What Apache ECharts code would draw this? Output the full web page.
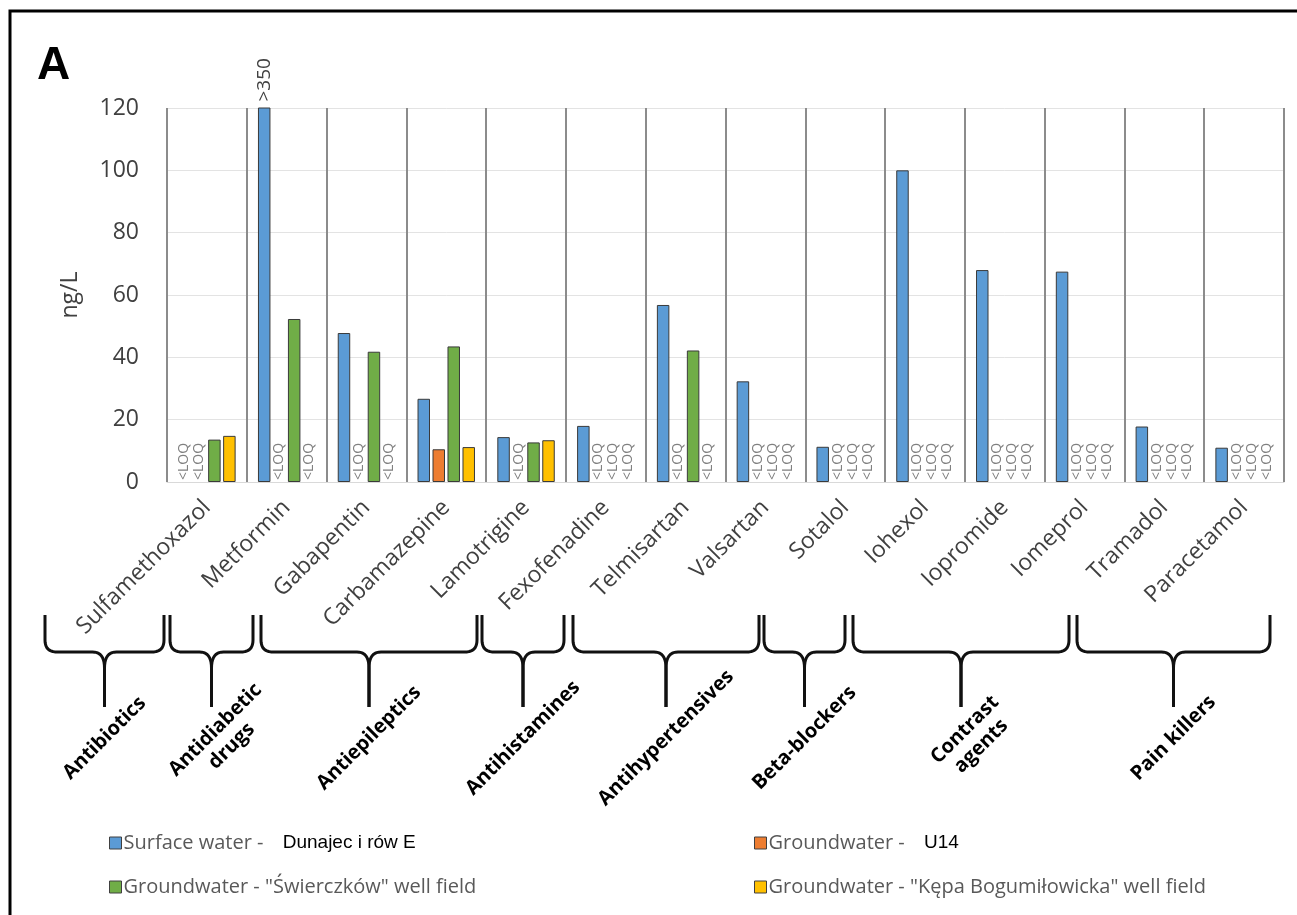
<!DOCTYPE html>
<html>
<head>
<meta charset="utf-8">
<script src="https://cdn.jsdelivr.net/npm/echarts@6/dist/echarts.min.js"></script>
<style>
  html, body { margin: 0; padding: 0; background: #ffffff; }
  #chart { width: 1297px; height: 915px; }
</style>
</head>
<body>
<div id="chart"></div>
<script>
// Concentrations in ng/L; null marks a result below the limit of quantification (<LOQ)
const categories = ['Sulfamethoxazol', 'Metformin', 'Gabapentin', 'Carbamazepine', 'Lamotrigine',
  'Fexofenadine', 'Telmisartan', 'Valsartan', 'Sotalol', 'Iohexol', 'Iopromide', 'Iomeprol',
  'Tramadol', 'Paracetamol'];
const surfaceWater = [null, 350, 47.8, 26.7, 14.4, 18, 56.8, 32.3, 11.3, 100, 68, 67.5, 17.8, 11];
const groundwaterU14 = [null, null, null, 10.5, null, null, null, null, null, null, null, null, null, null];
const groundwaterSwierczkow = [13.6, 52.3, 41.8, 43.5, 12.7, null, 42.2, null, null, null, null, null, null, null];
const groundwaterKepa = [14.8, null, null, 11.2, 13.4, null, null, null, null, null, null, null, null, null];
const yTicks = { min: 0, max: 120, interval: 20 };

// Drug classes with the number of consecutive categories each one groups
const drugGroups = ['Antibiotics', 'Antidiabetic\ndrugs', 'Antiepileptics', 'Antihistamines',
  'Antihypertensives', 'Beta-blockers', 'Contrast\nagents', 'Pain killers'];
const drugGroupSizes = [1, 1, 3, 1, 2, 1, 3, 2];

// Hand-placed brace geometry under the rotated labels (pixels)
const braceLayout = [[45, 164], [170, 253], [261, 477], [482, 564], [573, 759], [764, 845], [853, 1069], [1077, 1270]];
const BRACE_TOP = 615, BRACE_BAR = 652, BRACE_TIP = 707, GROUP_LABEL_Y = 738;

const FONT = "'Open Sans', 'DejaVu Sans', sans-serif";
const ARIAL = "'Liberation Sans', Arial, sans-serif";
const colors = ['#5B9BD5', '#ED7D31', '#70AD47', '#FFC000'];

const loqLabel = {
  show: true, position: 'insideBottom', rotate: 90, align: 'left', verticalAlign: 'middle',
  distance: 2, formatter: '<LOQ', color: '#808080', fontSize: 14, fontFamily: FONT
};
const overLabel = {
  show: true, position: 'top', rotate: 90, align: 'left', verticalAlign: 'middle',
  distance: 6, color: '#404040', fontSize: 19, fontFamily: FONT
};

function toData(values) {
  return values.map(function (v) {
    if (v === null) {
      return { value: 0, itemStyle: { color: 'rgba(0,0,0,0)', borderWidth: 0 }, label: loqLabel };
    }
    if (v > yTicks.max) {
      return { value: v, label: Object.assign({}, overLabel, { formatter: '>' + v }) };
    }
    return v;
  });
}

const seriesDefs = [
  { name: 'Surface water - Dunajec i rów E', values: surfaceWater, legend: '{a|Surface water - }{b|Dunajec i rów E}' },
  { name: 'Groundwater - U14', values: groundwaterU14, legend: '{a|Groundwater - }{b|U14}' },
  { name: 'Groundwater - "Świerczków" well field', values: groundwaterSwierczkow, legend: '{a|Groundwater - "Świerczków" well field}' },
  { name: 'Groundwater - "Kępa Bogumiłowicka" well field', values: groundwaterKepa, legend: '{a|Groundwater - "Kępa Bogumiłowicka" well field}' }
];

const legendPos = [[104, 828], [749, 828], [104, 872], [749, 872]];

const legends = seriesDefs.map(function (s, i) {
  return {
    data: [s.name], left: legendPos[i][0], top: legendPos[i][1], orient: 'horizontal',
    icon: 'rect', itemWidth: 12, itemHeight: 12, itemGap: 0,
    itemStyle: { borderColor: '#404040', borderWidth: 1 },
    selectedMode: false,
    formatter: function () { return s.legend; },
    textStyle: {
      padding: [0, 0, 0, -3],
      rich: {
        a: { fontFamily: FONT, fontSize: 20, color: '#595959' },
        b: { fontFamily: ARIAL, fontSize: 19, color: '#000000', padding: [0, 0, 0, 14] }
      }
    }
  };
});

const chart = echarts.init(document.getElementById('chart'), null, { renderer: 'canvas' });

// Sample a quadratic curve into polyline points
function quad(p0, c, p1, out) {
  for (let k = 1; k <= 10; k++) {
    const t = k / 10, u = 1 - t;
    out.push([u * u * p0[0] + 2 * u * t * c[0] + t * t * p1[0], u * u * p0[1] + 2 * u * t * c[1] + t * t * p1[1]]);
  }
}

function halfBrace(xEnd, m) {
  const dir = xEnd < m ? 1 : -1;
  const r = 12;
  const pts = [[xEnd, BRACE_TOP], [xEnd, BRACE_BAR - r]];
  quad([xEnd, BRACE_BAR - r], [xEnd, BRACE_BAR], [xEnd + dir * r, BRACE_BAR], pts);
  pts.push([m - dir * r, BRACE_BAR]);
  quad([m - dir * r, BRACE_BAR], [m, BRACE_BAR], [m, BRACE_BAR + r + 4], pts);
  pts.push([m, BRACE_TIP]);
  return pts;
}

function braceGraphics() {
  const els = [];
  braceLayout.forEach(function (span, i) {
    const x1 = span[0], x2 = span[1], m = (x1 + x2) / 2;
    [x1, x2].forEach(function (xe) {
      els.push({
        type: 'polyline', shape: { points: halfBrace(xe, m) },
        style: { fill: null, stroke: '#111111', lineWidth: 3, lineJoin: 'round' }, silent: true
      });
    });
    const twoLines = drugGroups[i].indexOf('\n') >= 0;
    els.push({
      type: 'text', x: m + (twoLines ? 12 : 0), y: GROUP_LABEL_Y, rotation: Math.PI / 4,
      style: {
        text: drugGroups[i], fontFamily: FONT, fontWeight: 'bold', fontSize: 20,
        fill: '#000000', align: 'center', verticalAlign: 'middle', lineHeight: 23
      }, silent: true
    });
  });
  return els;
}

chart.setOption({
  animation: false,
  backgroundColor: '#ffffff',
  color: colors,
  legend: legends,
  grid: { left: 167, right: 13, top: 108, bottom: 433, containLabel: false },
  xAxis: {
    type: 'category', data: categories,
    axisLine: { show: true, lineStyle: { color: '#d9d9d9', width: 1 } },
    axisTick: { show: false },
    splitLine: { show: true, interval: 0, lineStyle: { color: '#8c8c8c', width: 2 } },
    axisLabel: { interval: 0, rotate: 45, fontFamily: FONT, fontSize: 23, color: '#404040', margin: 22 }
  },
  yAxis: {
    type: 'value', min: yTicks.min, max: yTicks.max, interval: yTicks.interval,
    name: 'ng/L', nameLocation: 'middle', nameGap: 85,
    nameTextStyle: { fontFamily: FONT, fontSize: 23, color: '#404040' },
    axisLine: { show: false }, axisTick: { show: false },
    axisLabel: { fontFamily: FONT, fontSize: 23, color: '#404040', margin: 28 },
    splitLine: { lineStyle: { color: '#e3e3e3', width: 1 } }
  },
  series: seriesDefs.map(function (s) {
    return {
      name: s.name, type: 'bar', data: toData(s.values),
      barGap: '20%', barCategoryGap: '28%', clip: true,
      itemStyle: { borderColor: '#3a3a3a', borderWidth: 1 }
    };
  }),
  graphic: [
    { type: 'rect', shape: { x: 10, y: 11, width: 1400, height: 1000 },
      style: { fill: null, stroke: '#000000', lineWidth: 3 }, silent: true },
    { type: 'text', x: 37, y: 43,
      style: { text: 'A', fontFamily: ARIAL, fontWeight: 'bold', fontSize: 46, fill: '#000000' }, silent: true }
  ].concat(braceGraphics())
});
</script>
</body>
</html>
